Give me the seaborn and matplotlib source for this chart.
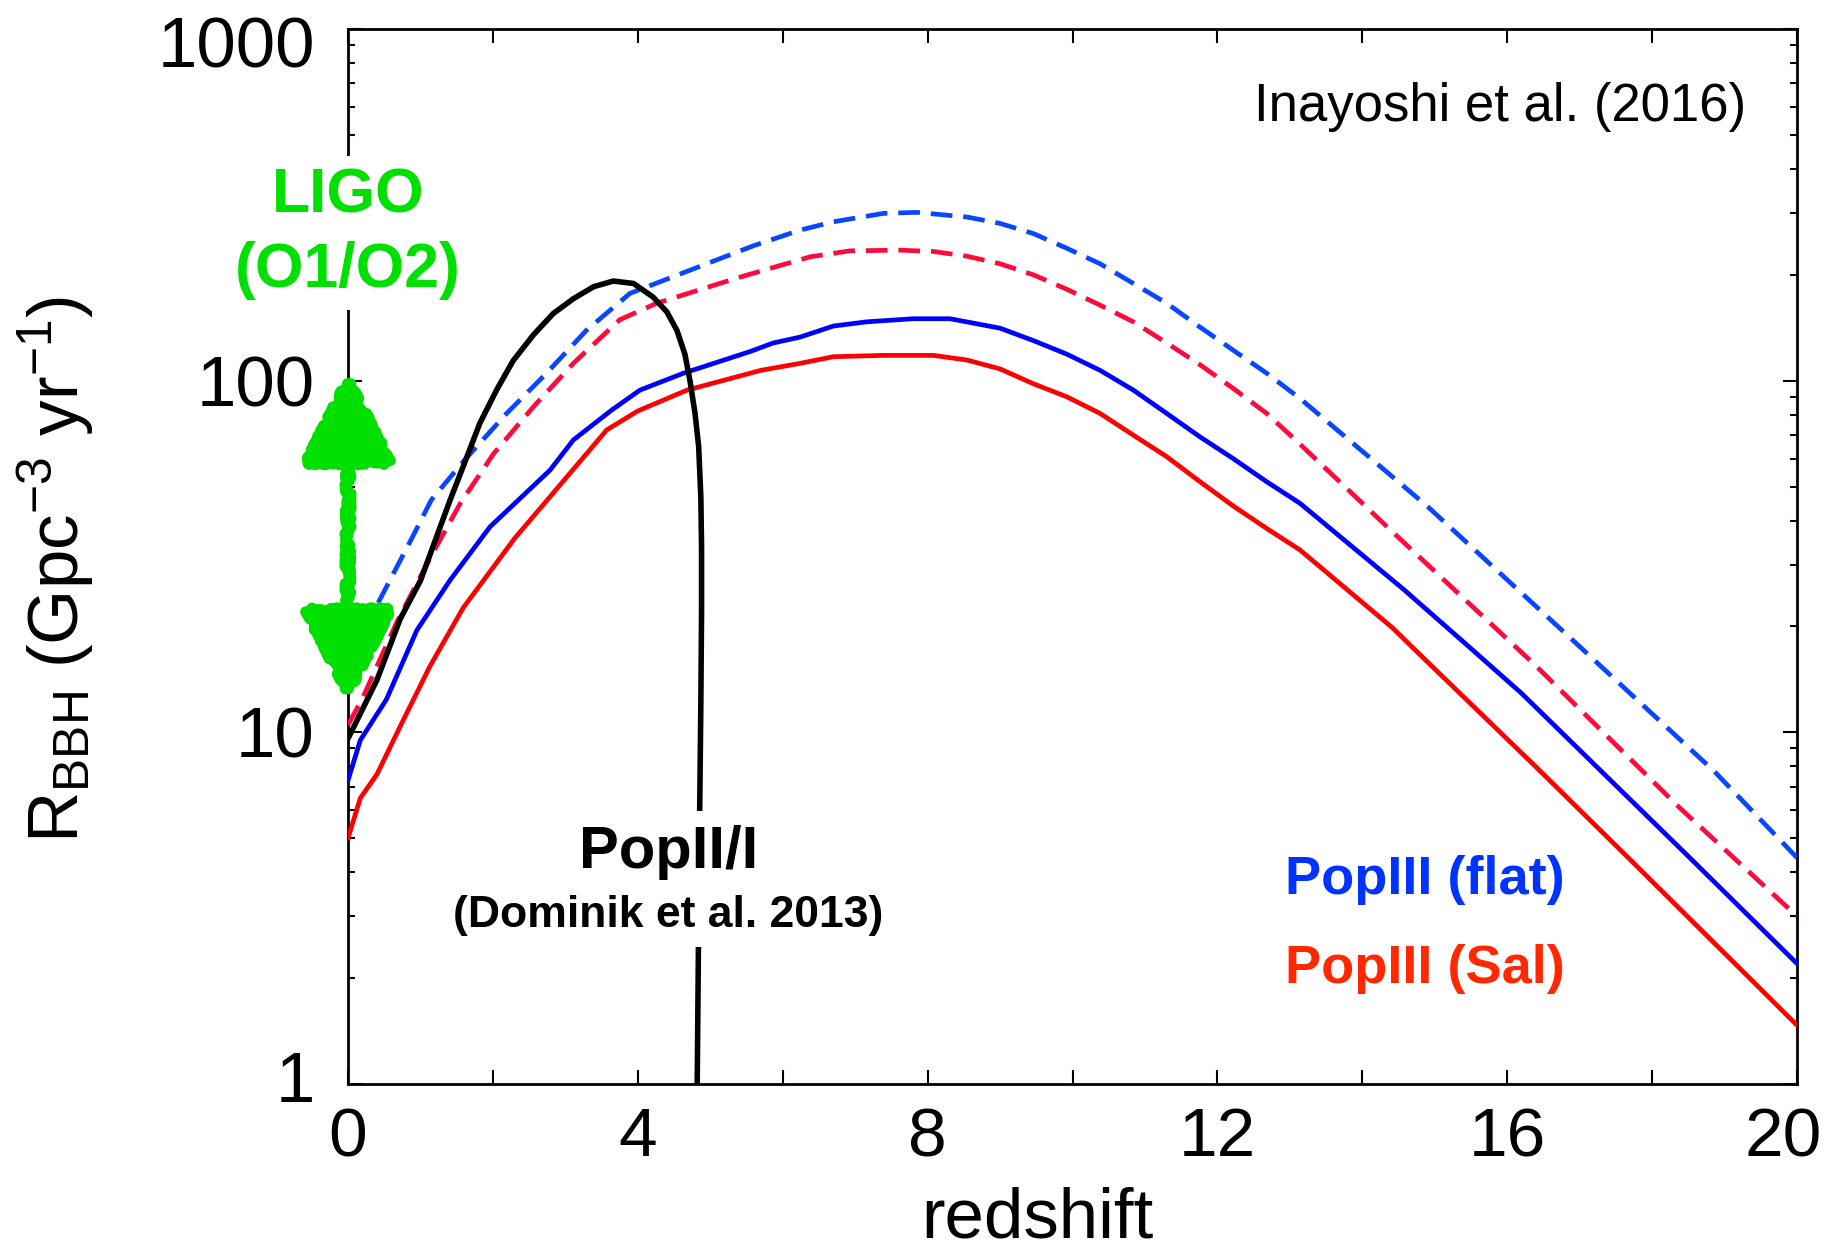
import numpy as np
import pandas as pd
import matplotlib
matplotlib.use("Agg")
import matplotlib.pyplot as plt
import matplotlib.transforms as mtransforms
import seaborn as sns
from matplotlib.patches import FancyArrowPatch, ArrowStyle
from matplotlib.ticker import MultipleLocator, LogLocator, NullFormatter, FuncFormatter, FixedLocator

# ---------------- data ----------------
z_flat_dash = [0, 0.33, 0.88, 1.15, 1.61, 2.19, 2.74, 3.29, 3.89, 4.95, 5.6, 6.24, 6.7,
               7.39, 7.85, 8.54, 9.0, 9.46, 9.92, 10.38, 10.84, 11.3, 11.76, 12.22, 12.68,
               13.14, 14.91, 16.89, 18.86, 20]
r_flat_dash = [16, 21.6, 35.6, 45.8, 59.5, 80.7, 105, 139, 177, 215, 242, 268, 283,
               299, 301, 292, 280, 262, 238, 215, 189, 166, 142, 122, 105,
               89, 43.7, 18.4, 7.74, 4.4]

z_sal_dash = [0, 0.2, 0.67, 1.15, 1.55, 2.01, 2.56, 3.11, 3.75, 4.26, 5.41, 6.38, 6.93,
              7.62, 8.08, 8.54, 9.0, 9.46, 9.92, 10.38, 10.84, 11.3, 11.76, 12.22, 12.68,
              13.14, 14.42, 16.39, 18.37, 20]
r_sal_dash = [10.5, 12.5, 20.5, 31.8, 44.8, 62, 84.3, 112, 149, 166, 197, 225, 234,
              235, 233, 226, 215, 200, 182, 164, 147, 128, 111, 95, 80.7,
              66, 37.1, 15.5, 6.13, 3.0]

z_flat = [0, 0.17, 0.53, 0.95, 1.41, 1.96, 2.79, 3.11, 3.64, 4.03, 4.63, 5.55, 5.87, 6.24,
          6.7, 7.16, 7.8, 8.31, 9.0, 9.46, 9.92, 10.38, 10.84, 11.3, 11.76, 12.22, 12.68,
          13.14, 14.57, 15.46, 16.2, 18.51, 20]
r_flat = [7.3, 9.5, 12.4, 19.5, 27.1, 38.4, 55.7, 67.8, 82.5, 94, 105, 121, 128, 133,
          143, 147, 150, 150, 141, 130, 119, 107, 94, 80.7, 69.2, 60, 51.6,
          44.8, 25.5, 17.6, 12.9, 4.42, 2.2]

z_sal = [0, 0.17, 0.4, 0.76, 1.13, 1.59, 2.3, 3.22, 3.57, 4.0, 4.68, 5.7, 6.24, 6.7,
         7.39, 8.08, 8.54, 9.0, 9.46, 9.92, 10.38, 10.84, 11.3, 11.76, 12.22, 12.68,
         13.14, 14.42, 14.71, 16.39, 17.72, 20]
r_sal = [5.0, 6.5, 7.6, 10.8, 15.4, 22.6, 35.6, 59.5, 72.4, 82, 94, 107, 112, 117,
         118, 118, 114.5, 108, 98, 90, 80.7, 70, 60.8, 51.6, 44, 38,
         33, 19.8, 17.3, 8.0, 4.3, 1.47]

z_pop2 = [0, 0.4, 0.72, 1.0, 1.41, 1.59, 1.82, 2.05, 2.28, 2.56, 2.83, 3.11, 3.39, 3.66,
          3.94, 4.21, 4.4, 4.54, 4.65, 4.72, 4.79, 4.84, 4.87, 4.88, 4.88, 4.87, 4.85, 4.82]
r_pop2 = [9.6, 14.1, 21, 27, 45.8, 57, 75.7, 94, 114, 135, 155, 171, 185, 192,
          189, 173, 157, 139, 119, 100, 80.7, 65, 46.8, 33.7, 22, 12, 5, 1]

ligo_range = [12.3, 106]   # LIGO O1/O2 rate interval at z = 0

x_ticks_major = [0, 4, 8, 12, 16, 20]
y_ticks_major = [1, 10, 100, 1000]

# ---------------- style ----------------
sns.set_style("ticks")
plt.rcParams['font.family'] = ['Liberation Sans', 'DejaVu Sans']
plt.rcParams['mathtext.fontset'] = 'custom'
plt.rcParams['mathtext.rm'] = 'Liberation Sans'
plt.rcParams['mathtext.it'] = 'Liberation Sans:italic'
plt.rcParams['mathtext.bf'] = 'Liberation Sans:bold'
for k in ['text.color', 'axes.labelcolor', 'xtick.color', 'ytick.color', 'axes.edgecolor']:
    plt.rcParams[k] = 'black'

W, H = 1832, 1255
fig = plt.figure(figsize=(W / 100, H / 100), dpi=100)
ax = fig.add_axes([348 / W, (H - 1084) / H, 1449 / W, 1055 / H])

dash = (0, (4.6, 2.3))
lines = [
    (z_flat_dash, r_flat_dash, '#0a46ff', dash, 3.4, 3),
    (z_sal_dash, r_sal_dash, '#ff0a3c', dash, 3.4, 3),
    (z_flat, r_flat, '#0000ff', '-', 3.4, 3),
    (z_sal, r_sal, '#ff0000', '-', 3.4, 3),
    (z_pop2, r_pop2, '#000000', '-', 4.0, 4),
]
for zz, rr, col, ls, lw, zo in lines:
    df = pd.DataFrame({'z': zz, 'R': rr})
    sns.lineplot(data=df, x='z', y='R', ax=ax, color=col, linestyle=ls, linewidth=lw,
                 sort=False, estimator=None, zorder=zo)

ax.set_yscale('log')
ax.set_xlim(0, 20)
ax.set_ylim(1, 1000)
ax.set_xlabel('')
ax.set_ylabel('')

ax.xaxis.set_major_locator(FixedLocator(x_ticks_major))
ax.xaxis.set_minor_locator(MultipleLocator(2))
ax.yaxis.set_major_locator(FixedLocator(y_ticks_major))
ax.yaxis.set_major_formatter(FuncFormatter(lambda v, p: f"{v:g}"))
ax.yaxis.set_minor_locator(LogLocator(base=10, subs=np.arange(2, 10)))
ax.yaxis.set_minor_formatter(NullFormatter())

ax.tick_params(axis='both', which='both', direction='in', top=True, right=True,
               width=1.5, colors='black')
ax.tick_params(axis='x', which='both', length=10, labelsize=50, pad=16)
ax.tick_params(axis='y', which='major', length=10, labelsize=51, pad=24)
ax.tick_params(axis='y', which='minor', length=5)
for s in ax.spines.values():
    s.set_linewidth(2)
    s.set_color('black')
    s.set_visible(True)

# ---------------- LIGO arrow ----------------
green = '#00e000'
arrow = FancyArrowPatch((0, ligo_range[0]), (0, ligo_range[1]),
                        arrowstyle=ArrowStyle('<|-|>', head_length=1.4, head_width=0.72),
                        mutation_scale=40, color=green, lw=8, clip_on=False, zorder=10,
                        shrinkA=0, shrinkB=0)
arrow.set_sketch_params(scale=3, length=5, randomness=25)
ax.add_patch(arrow)

# ---------------- texts ----------------
blend = mtransforms.blended_transform_factory(ax.transData, ax.transAxes)
ax.text(0.9648, 0.9128, "Inayoshi et al. (2016)", transform=ax.transAxes,
        ha='right', va='baseline', fontsize=38)
ax.text(0, 0.8265, "LIGO", transform=ax.transAxes, ha='center', va='baseline',
        fontsize=45, weight='bold', color=green, zorder=6, clip_on=False,
        bbox=dict(fc='white', ec='none', pad=7))
ax.text(0, 0.7555, "(O1/O2)", transform=ax.transAxes, ha='center', va='baseline',
        fontsize=45, weight='bold', color=green, zorder=6, clip_on=False,
        bbox=dict(fc='white', ec='none', pad=7))
ax.text(4.43, 0.2047, "PopII/I", transform=blend, ha='center', va='baseline',
        fontsize=43, weight='bold', zorder=6, bbox=dict(fc='white', ec='none', pad=10))
ax.text(4.42, 0.1488, "(Dominik et al. 2013)", transform=blend, ha='center',
        va='baseline', fontsize=32, weight='bold', zorder=6,
        bbox=dict(fc='white', ec='none', pad=8))
ax.text(12.93, 0.1801, "PopIII (flat)", transform=blend, ha='left', va='baseline',
        fontsize=39, weight='bold', color='#0033ff')
ax.text(12.93, 0.0957, "PopIII (Sal)", transform=blend, ha='left', va='baseline',
        fontsize=39, weight='bold', color='#ff2800')

fig.text(56 / W, 1 - 569 / H, r"R$_{\mathrm{BBH}}$ (Gpc$^{\mathrm{-3}}$ yr$^{\mathrm{-1}}$)",
         rotation=90, ha='center', va='center', fontsize=51)
fig.text(1037 / W, 2 / H, "redshift", ha='center', va='bottom', fontsize=51)

# nudge the end tick labels inward like the reference
fig.canvas.draw()
yt = ax.yaxis.get_major_ticks()
yt[-1].label1.set_transform(yt[-1].label1.get_transform() +
                            mtransforms.ScaledTranslation(0, -0.13, fig.dpi_scale_trans))
yt[0].label1.set_transform(yt[0].label1.get_transform() +
                           mtransforms.ScaledTranslation(0, 0.07, fig.dpi_scale_trans))
xt = ax.xaxis.get_major_ticks()
xt[-1].label1.set_transform(xt[-1].label1.get_transform() +
                            mtransforms.ScaledTranslation(-0.14, 0, fig.dpi_scale_trans))

fig.savefig("out.png", dpi=100)
